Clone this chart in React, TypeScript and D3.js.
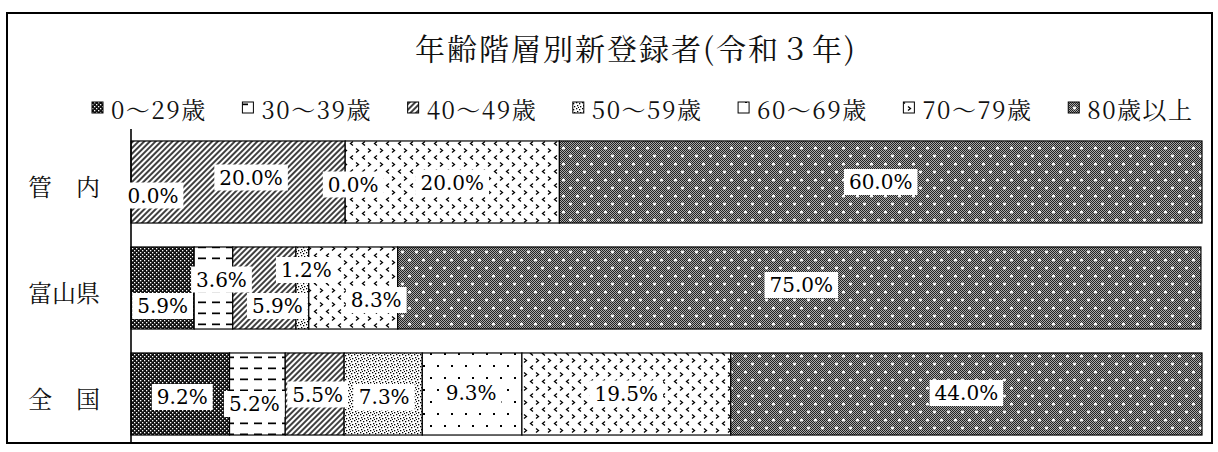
import React, { useMemo } from "react";
import * as d3 from "d3";

// ---- data ----
const title = "年齢階層別新登録者(令和３年)";
const categories = ["管　内", "富山県", "全　国"];
const ageGroups = ["0〜29歳", "30〜39歳", "40〜49歳", "50〜59歳", "60〜69歳", "70〜79歳", "80歳以上"];
const kannai = [0.0, 0.0, 20.0, 0.0, 0.0, 20.0, 60.0];
const toyama = [5.9, 3.6, 5.9, 1.2, 0.0, 8.3, 75.0];
const zenkoku = [9.2, 5.2, 5.5, 7.3, 9.3, 19.5, 44.0];
const kannaiLabelShown = [true, false, true, true, false, true, true];
const toyamaLabelShown = [true, true, true, true, false, true, true];
const zenkokuLabelShown = [true, true, true, true, true, true, true];

// ---- layout (label nudges relative to segment centre) ----
const labelNudge: number[][][] = [
  [[22, 13.5], [0, 0], [13, -4.5], [8, 2.5], [0, 0], [0, 0.5], [0, 0]],
  [[0, 18], [8, -8.5], [13, 18], [4, -18], [0, 0], [23, 12], [2, -3]],
  [[2, 3], [-3, 10], [3, 0.5], [1, 3], [-1, -1.5], [0, -0.5], [0, -1]],
];

const patternIds = ["p0", "p1", "p2", "p3", "p4", "p5", "p6"];

let _ctx: CanvasRenderingContext2D | null = null;
function measure(text: string, font: string): number {
  if (!_ctx) _ctx = document.createElement("canvas").getContext("2d");
  if (!_ctx) return text.length * 12;
  _ctx.font = font;
  return _ctx.measureText(text).width;
}

const LABEL_FAMILY = "DejaVu Serif";
const LABEL_FONT_SIZE = 20;
const LABEL_FONT = `${LABEL_FONT_SIZE}px "${LABEL_FAMILY}"`;
const JP_FAMILY = "Noto Serif CJK JP";
const LEGEND_FONT_SIZE = 24;
const LEGEND_SPACING = 1.5;
const LEGEND_START = 92;
const LEGEND_END = 1192;
const LEGEND_TEXT_OFFSET = 19;

export default function App() {
  const W = 1218;
  const H = 452;
  const data = [kannai, toyama, zenkoku];
  const shown = [kannaiLabelShown, toyamaLabelShown, zenkokuLabelShown];

  const x = d3.scaleLinear().domain([0, 100]).range([131, 1202]);
  const y = d3
    .scaleBand<string>()
    .domain(categories)
    .range([129, 447])
    .paddingInner(0.226)
    .paddingOuter(0.113);

  const rows = categories.map((c, i) => {
    const o: Record<string, any> = { cat: c };
    ageGroups.forEach((g, j) => (o[g] = data[i][j]));
    return o;
  });
  const stacked = d3.stack<Record<string, any>>().keys(ageGroups)(rows as any);

  const legendItems = useMemo(() => {
    const font = `${LEGEND_FONT_SIZE}px "${JP_FAMILY}"`;
    const tw = (g: string) => measure(g, font) + LEGEND_SPACING * (g.length - 1);
    const total = ageGroups.reduce((acc, g) => acc + LEGEND_TEXT_OFFSET + tw(g), 0);
    const gap = (LEGEND_END - LEGEND_START - total) / (ageGroups.length - 1);
    let cx = LEGEND_START;
    return ageGroups.map((g) => {
      const item = { g, x: cx };
      cx += LEGEND_TEXT_OFFSET + tw(g) + gap;
      return item;
    });
  }, []);

  const bw = y.bandwidth();

  return (
    <svg width={W} height={H} style={{ display: "block", position: "absolute", left: 0, top: 0, background: "#fff" }}>
      <defs>
        <pattern id="chk" width="2" height="2" patternUnits="userSpaceOnUse">
          <rect width="2" height="2" fill="#a8a8a8" />
          <rect width="1" height="1" fill="#222" />
          <rect x="1" y="1" width="1" height="1" fill="#222" />
        </pattern>
        <pattern id="p0" width="4" height="4" patternUnits="userSpaceOnUse">
          <rect width="4" height="4" fill="#101010" />
          <rect x="0" y="0" width="1.3" height="1.3" fill="#fff" />
          <rect x="2" y="2" width="1.3" height="1.3" fill="#fff" />
        </pattern>
        <pattern id="p1" width="14" height="11" patternUnits="userSpaceOnUse">
          <rect width="14" height="11" fill="#fff" />
          <rect x="2" y="4.5" width="8" height="1.7" fill="#000" />
        </pattern>
        <pattern id="p2" width="4" height="4" patternUnits="userSpaceOnUse" patternTransform="rotate(45)">
          <rect width="4" height="4" fill="#fff" />
          <line x1="2" y1="-1" x2="2" y2="5" stroke="#000" strokeWidth="1.5" />
        </pattern>
        <pattern id="p3" width="6" height="6" patternUnits="userSpaceOnUse">
          <rect width="6" height="6" fill="#fff" />
          <rect x="0" y="0" width="1.3" height="1.3" fill="#000" />
          <rect x="3" y="1" width="1.3" height="1.3" fill="#000" />
          <rect x="1" y="3" width="1.3" height="1.3" fill="#000" />
          <rect x="4" y="4" width="1.3" height="1.3" fill="#000" />
          <rect x="2" y="5" width="1" height="1" fill="#000" />
        </pattern>
        <pattern id="p4" width="14" height="24" patternUnits="userSpaceOnUse">
          <rect width="14" height="24" fill="#fff" />
          <rect x="3" y="5" width="2" height="2" fill="#000" />
          <rect x="10" y="17" width="2" height="2" fill="#000" />
        </pattern>
        <pattern id="p5" width="12" height="14" patternUnits="userSpaceOnUse">
          <rect width="12" height="14" fill="#fff" />
          <path d="M5 1.5 L2.5 3.5 L5 5.5" fill="none" stroke="#000" strokeWidth="1.3" />
          <path d="M8 8.5 L10.5 10.5 L8 12.5" fill="none" stroke="#000" strokeWidth="1.3" />
        </pattern>
        <pattern id="p6" width="14" height="16" patternUnits="userSpaceOnUse">
          <rect width="14" height="16" fill="url(#chk)" />
          <circle cx="3.5" cy="4" r="1.6" fill="#fff" />
          <circle cx="10.5" cy="12" r="1.6" fill="#fff" />
        </pattern>
      </defs>

      {/* frame */}
      <rect x={7} y={13} width={1205} height={430} fill="none" stroke="#000" strokeWidth={2} />

      {/* title */}
      <text
        x={636}
        y={47}
        textAnchor="middle"
        dominantBaseline="central"
        fontFamily={JP_FAMILY}
        fontSize={30}
        letterSpacing={2}
        fill="#111"
      >
        {title}
      </text>

      {/* legend */}
      {legendItems.map((it, j) => (
        <g key={it.g}>
          <rect
            x={it.x}
            y={102}
            width={11}
            height={11}
            fill={`url(#${patternIds[j]})`}
            stroke="#000"
            strokeWidth={1}
          />
          <text
            x={it.x + LEGEND_TEXT_OFFSET}
            y={108}
            dominantBaseline="central"
            fontFamily={JP_FAMILY}
            fontSize={LEGEND_FONT_SIZE}
            letterSpacing={LEGEND_SPACING}
            fill="#111"
          >
            {it.g}
          </text>
        </g>
      ))}

      {/* category labels */}
      {categories.map((c) => (
        <text
          key={c}
          x={28}
          y={(y(c) as number) + bw / 2 + 3}
          dominantBaseline="central"
          fontFamily={JP_FAMILY}
          fontSize={24}
          fill="#111"
        >
          {c}
        </text>
      ))}

      {/* bars */}
      {stacked.map((s, j) => (
        <g key={s.key}>
          {s.map((d, i) => (
            <rect
              key={i}
              x={x(d[0])}
              y={y(categories[i]) as number}
              width={Math.max(0, x(d[1]) - x(d[0]))}
              height={bw}
              fill={`url(#${patternIds[j]})`}
              stroke="#000"
              strokeWidth={1.2}
            />
          ))}
        </g>
      ))}

      {/* axis */}
      <line x1={131} x2={131} y1={129} y2={443} stroke="#000" strokeWidth={1.6} />

      {/* data labels */}
      {stacked.map((s, j) => (
        <g key={"l" + s.key}>
          {s.map((d, i) => {
            if (!shown[i][j]) return null;
            const v = data[i][j];
            const txt = `${v.toFixed(1)}%`;
            const [dx, dy] = labelNudge[i][j];
            const cx = (x(d[0]) + x(d[1])) / 2 + dx;
            const cy = (y(categories[i]) as number) + bw / 2 + dy;
            const tw = measure(txt, LABEL_FONT);
            return (
              <g key={i}>
                <rect x={cx - tw / 2 - 5} y={cy - 13} width={tw + 10} height={26} fill="#fff" />
                <text
                  x={cx}
                  y={cy}
                  textAnchor="middle"
                  dominantBaseline="central"
                  fontFamily={LABEL_FAMILY}
                  fontSize={LABEL_FONT_SIZE}
                  fill="#000"
                >
                  {txt}
                </text>
              </g>
            );
          })}
        </g>
      ))}
    </svg>
  );
}
